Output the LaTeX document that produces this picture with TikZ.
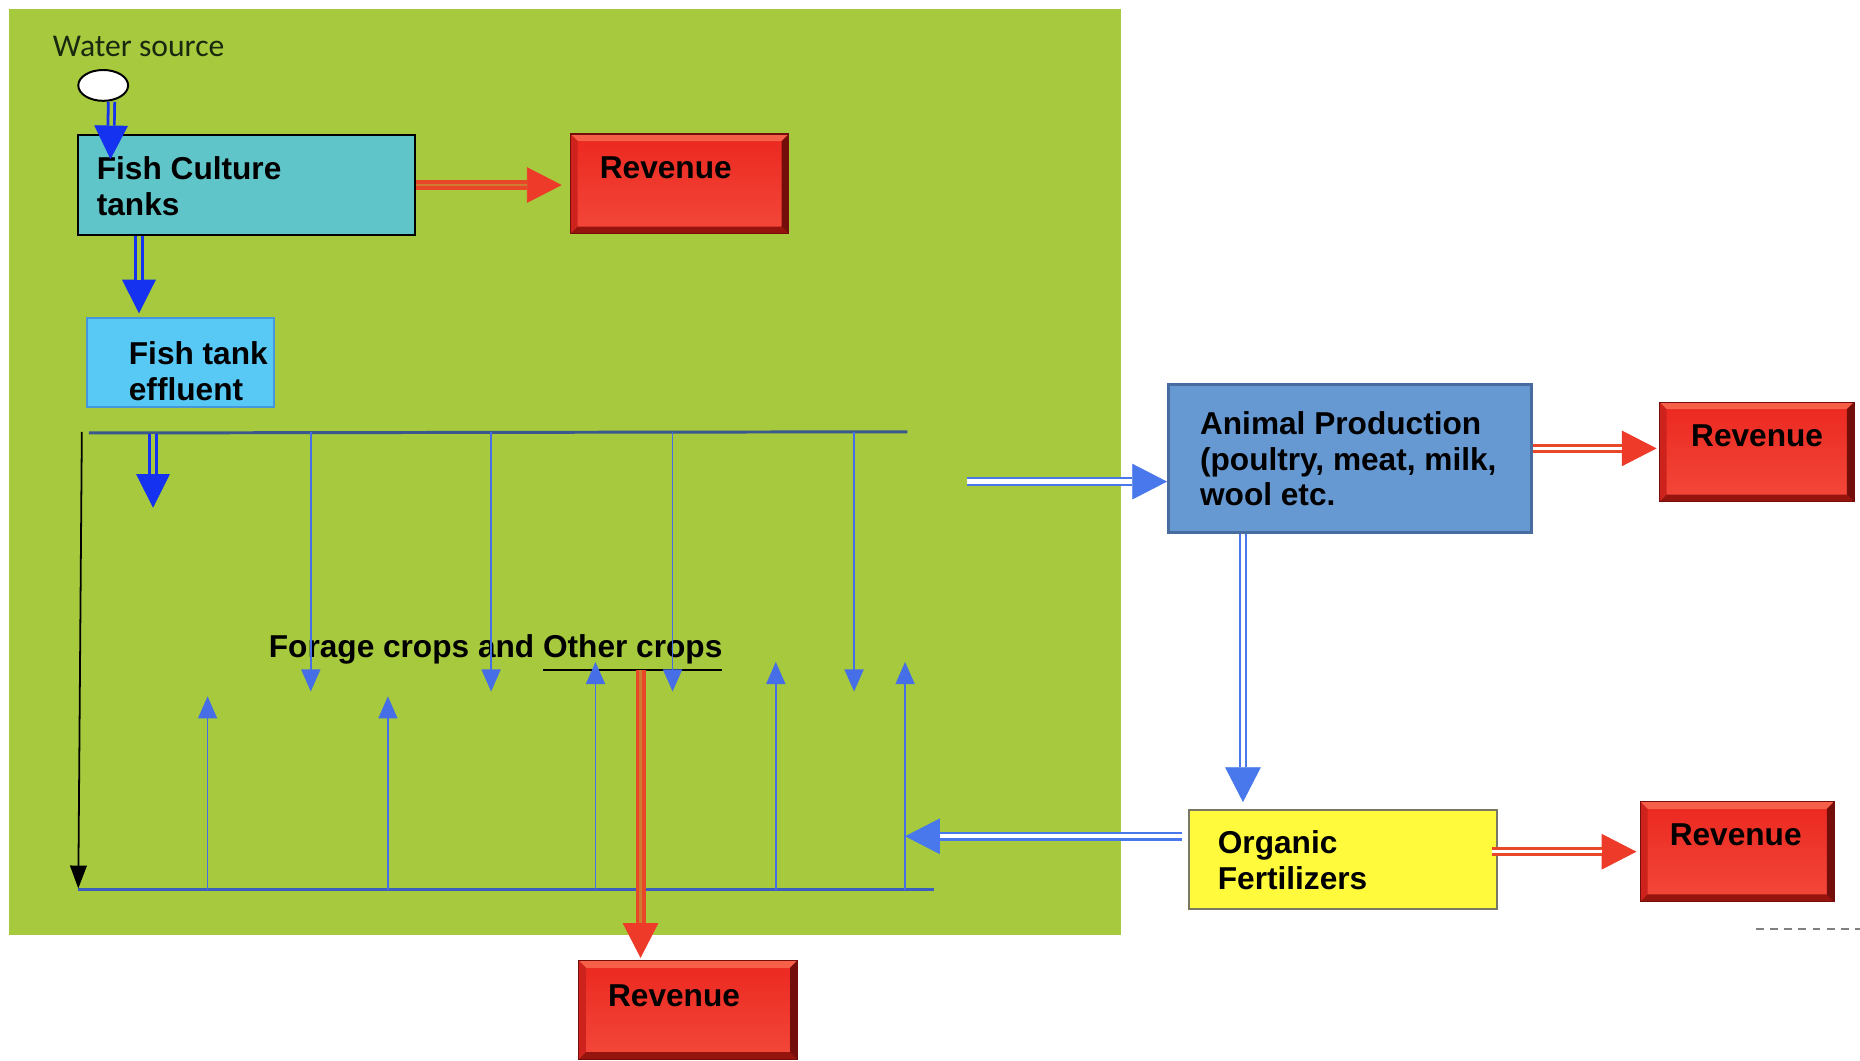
\documentclass[tikz,border=0pt]{standalone}
\usepackage{fontspec}
\setmainfont{Liberation Sans}
\newfontfamily\wsfont{Carlito}
\usetikzlibrary{calc,fit,arrows.meta,shapes.geometric}
\definecolor{grn}{RGB}{166,201,62}
\definecolor{fishc}{RGB}{96,197,200}
\definecolor{efflc}{RGB}{88,200,245}
\definecolor{efflb}{RGB}{70,150,220}
\definecolor{animc}{RGB}{102,153,210}
\definecolor{animb}{RGB}{72,108,160}
\definecolor{orgc}{RGB}{255,250,60}
\definecolor{orgb}{RGB}{120,120,100}
\definecolor{revred}{RGB}{236,42,34}
\definecolor{revlow}{RGB}{242,70,56}
\definecolor{revdark}{RGB}{150,20,14}
\definecolor{revdarker}{RGB}{115,14,10}
\definecolor{revlight}{RGB}{246,96,72}
\definecolor{revmid}{RGB}{205,35,28}
\definecolor{dblue}{RGB}{20,50,240}
\definecolor{mblue}{RGB}{72,120,235}
\definecolor{cblue}{RGB}{70,110,230}
\definecolor{tline}{RGB}{58,88,140}
\definecolor{bline}{RGB}{60,95,190}
\definecolor{redarr}{RGB}{232,72,40}
\definecolor{redtip}{RGB}{238,58,40}
\definecolor{wstext}{RGB}{25,40,15}
\newcommand\DblArr[4]{%
  \draw[#2] #3 -- #4;
  \draw[#1] #3 -- #4;}
\tikzset{
  txt/.style={inner sep=0pt, align=left, text=black},
  fishbox/.style={inner sep=0pt, fill=fishc, draw=black, line width=0.5pt},
  effbox/.style={inner sep=0pt, fill=efflc, draw=efflb, line width=0.5pt},
  animbox/.style={inner sep=0pt, fill=animc, draw=animb, line width=0.7pt},
  orgbox/.style={inner sep=0pt, fill=orgc, draw=orgb, line width=0.5pt},
  revbox/.style={inner sep=0pt, fill=revred, draw=revdarker, line width=0.3pt,
    path picture={
      \path (path picture bounding box.north west) coordinate (bNW)
            (path picture bounding box.north east) coordinate (bNE)
            (path picture bounding box.south west) coordinate (bSW)
            (path picture bounding box.south east) coordinate (bSE);
      \shade[top color=revred, bottom color=revlow] ($(bNW)+(6,6)$) rectangle ($(bSE)+(-6,-6)$);
      \fill[revlight] (bNW) -- (bNE) -- ($(bNE)+(-6,6)$) -- ($(bNW)+(6,6)$) -- cycle;
      \fill[revmid] (bNW) -- (bSW) -- ($(bSW)+(6,-6)$) -- ($(bNW)+(6,6)$) -- cycle;
      \fill[revdark] (bSW) -- (bSE) -- ($(bSE)+(-6,-6)$) -- ($(bSW)+(6,-6)$) -- cycle;
      \fill[revdarker] (bSE) -- (bNE) -- ($(bNE)+(-6,6)$) -- ($(bSE)+(-6,-6)$) -- cycle;
    }},
  dbTip/.style={dblue, line width=0.2pt, -{Triangle[length=8.5pt,width=8.5pt]}},
  dbShaft/.style={dblue, line width=0.7pt, double=grn, double distance=0.9pt, shorten >=8.5pt},
  mbTip/.style={mblue, line width=0.2pt, -{Triangle[length=8.8pt,width=9pt]}},
  mbShaftW/.style={mblue, line width=0.55pt, double=white, double distance=1.1pt, shorten >=8.8pt},
  rdTip/.style={redtip, line width=0.2pt, -{Triangle[length=8.8pt,width=9pt]}},
  rdShaftG/.style={redarr, line width=0.9pt, double=grn!40!redarr, double distance=0.7pt, shorten >=8.8pt},
  rdShaftW/.style={redarr, line width=0.75pt, double=white, double distance=0.9pt, shorten >=8.8pt},
  croparr/.style={cblue, line width=0.45pt, -{Triangle[length=5.6pt,width=4.8pt]}},
}
\begin{document}
\begin{tikzpicture}[x=0.3pt, y=-0.3pt, font=\fontsize{8}{9}\selectfont\bfseries]
\useasboundingbox (0,0) rectangle (1568,894);
\fill[white] (0,0) rectangle (1568,894);
\fill[grn] (8,8) rectangle (945,788);

% ---- nodes ----
\node[wstext, inner sep=0pt, anchor=base west, font=\wsfont\fontsize{8}{9}\selectfont] (wsT) at (44,47.5) {Water source};
\node[ellipse, draw=black, line width=0.5pt, fill=white, minimum width=12.6pt, minimum height=7.8pt, inner sep=0pt] (ws) at (87,72) {};

\node[fishbox, fit={(66,114) (350,198)}] (fish) {};
\node[txt, anchor=base west] (fishT) at (81,181.5) {Fish Culture\\tanks};

\node[revbox, fit={(481,113) (665,197)}] (r1) {};
\node[txt, anchor=base west] (r1T) at (505,150.5) {Revenue};

\node[effbox, fit={(73,268) (231,343)}] (eff) {};
\node[txt, anchor=base west] (effT) at (108,337.5) {Fish tank\\effluent};

\node[animbox, fit={(985,324) (1291,449)}] (anim) {};
\node[txt, anchor=base west] (animT) at (1011,426.5) {Animal Production\\(poultry, meat, milk,\\wool etc.};

\node[revbox, fit={(1399,339) (1563,423)}] (r2) {};
\node[txt, anchor=base west] (r2T) at (1425,376.5) {Revenue};

\node[orgbox, fit={(1002,683) (1262,766)}] (org) {};
\node[txt, anchor=base west] (orgT) at (1026,749.5) {Organic\\Fertilizers};

\node[revbox, fit={(1383,676) (1546,760)}] (r3) {};
\node[txt, anchor=base west] (r3T) at (1407,712.5) {Revenue};

\node[revbox, fit={(488,810) (672,893)}] (r4) {};
\node[txt, anchor=base west] (r4T) at (512,848.5) {Revenue};

\node[txt, anchor=base west] (crops) at (226,554.5) {Forage crops and \underline{Other crops}};

% ---- field lines ----
\coordinate (tl) at (75,365);
\coordinate (tr) at (765,364);
\coordinate (bl) at (66,750);
\coordinate (br) at (787,750);
\draw[tline, line width=0.75pt] (tl) -- (tr);
\draw[bline, line width=0.8pt] (bl) -- (br);
\draw[black, line width=0.45pt, -{Triangle[length=5.8pt,width=4.2pt]}] (69,364) coordinate (ka) -- (66,749) coordinate (kb);

% distribution arrows (down from top line)
\foreach \x/\n in {262/d1,414/d2,567/d3,720/d4}{
  \coordinate (\n s) at (\x,364.5);
  \coordinate (\n e) at (\x,583);
  \draw[croparr] (\n s) -- (\n e);
}
% arrows up from bottom line
\foreach \x/\y/\n in {175/587/u1,327/587/u2,502/558/u3,654/558/u4,763/558/u5}{
  \coordinate (\n s) at (\x,750);
  \coordinate (\n e) at (\x,\y);
  \draw[croparr] (\n s) -- (\n e);
}

% ---- connectors ----
\DblArr{dbShaft}{dbTip}{($(ws.south)+(7,0)$)}{($(fish.north west)+(28,21)$)}
\DblArr{dbShaft}{dbTip}{($(fish.south west)+(52,0)$)}{($(eff.north west)+(45,-3)$)}
\coordinate (fl) at (129,366);
\DblArr{dbShaft}{dbTip}{(fl)}{(129,428)}

\DblArr{rdShaftG}{rdTip}{(fish.east)}{($(fish.east -| r1.west)+(-7,0)$)}

\coordinate (feed) at (815,406);
\DblArr{mbShaftW}{mbTip}{(feed)}{(feed -| anim.west)}

\coordinate (aout) at ($(anim.east |- r2.west)+(0,-3)$);
\DblArr{rdShaftW}{rdTip}{(aout)}{($(aout -| r2.west)+(-2,0)$)}

\coordinate (adown) at ($(anim.south west)+(64,0)$);
\DblArr{mbShaftW}{mbTip}{(adown)}{($(adown |- org.north)+(0,-6)$)}

\coordinate (cin) at (763,705);
\DblArr{mbShaftW}{mbTip}{($(org.west |- cin)+(-5,0)$)}{(cin)}

\coordinate (oout) at ($(org.east |- r3.west)+(-5,0)$);
\DblArr{rdShaftW}{rdTip}{(oout)}{($(oout -| r3.west)+(-3,0)$)}

\coordinate (cout) at (540,565);
\DblArr{rdShaftG}{rdTip}{(cout)}{($(cout |- r4.north)+(0,-2)$)}

\draw[gray, line width=0.4pt, dash pattern=on 2pt off 1.6pt] (1480,783) coordinate (dsa) -- (1568,783) coordinate (dsb);
\end{tikzpicture}
\end{document}
